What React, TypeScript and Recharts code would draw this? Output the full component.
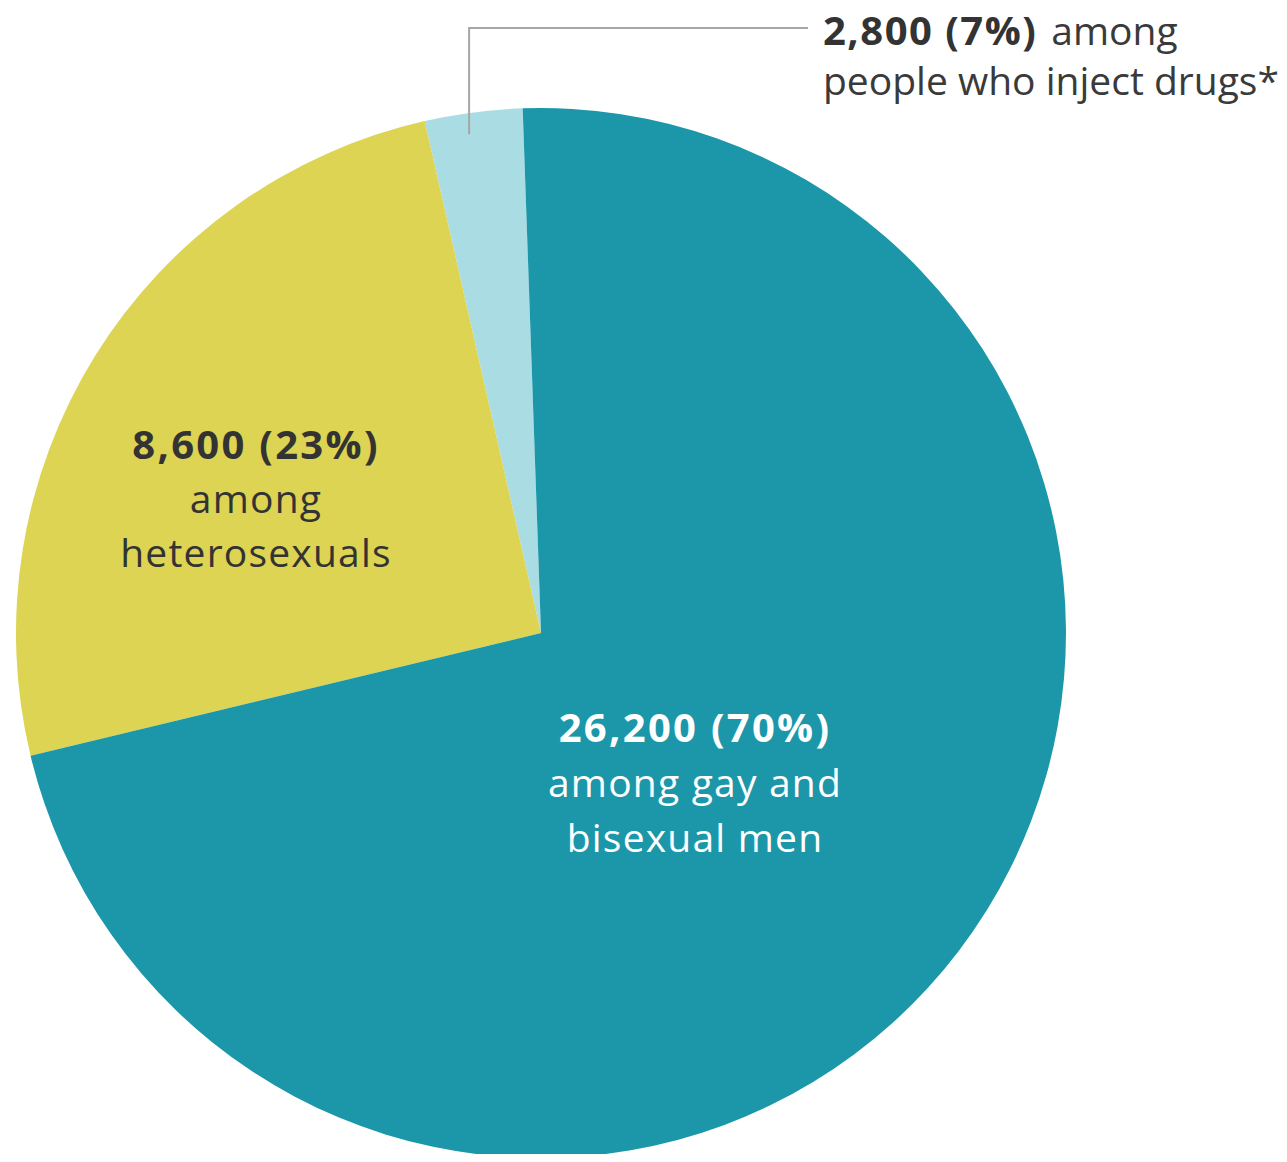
import React from "react";
import { PieChart, Pie, Cell } from "recharts";

// transmission groups, in drawing order (counter-clockwise from the top)
const groups = ["people who inject drugs", "heterosexuals", "gay and bisexual men"];
// slice sizes as drawn in the picture (share of the circle, %)
const shares = [3.0, 25.2, 71.8];
const counts = ["2,800", "8,600", "26,200"];
const percents = ["7%", "23%", "70%"];
const labelLines = [
  ["people who inject drugs*"],
  ["among", "heterosexuals"],
  ["among gay and", "bisexual men"],
];
const colors = ["#a9dce3", "#dcd452", "#1c97a9"];

const data = groups.map((g, i) => ({ name: g, value: shares[i] }));

const FONT = "'Open Sans', 'Noto Sans', sans-serif";
const RAD = Math.PI / 180;

// where each label sits, relative to the pie centre
const labelPos = [
  { dx: 282, dy: -588, anchor: "start", fill: "#3a3a3a", gap: 50 },
  { dx: -285, dy: -174, anchor: "middle", fill: "#333333", gap: 54 },
  { dx: 154, dy: 109, anchor: "middle", fill: "#ffffff", gap: 55 },
];

const renderLabel = (props: any) => {
  const { cx, cy, midAngle, outerRadius, index } = props;
  const p = labelPos[index];
  const head = `${counts[index]} (${percents[index]})`;
  const x = cx + p.dx;
  const y = cy + p.dy;

  if (index === 0) {
    // leader line from the thin slice up and across to the label
    const sx = cx + outerRadius * 0.96 * Math.cos(-(midAngle + 0.8) * RAD);
    const sy = cy + outerRadius * 0.96 * Math.sin(-(midAngle + 0.8) * RAD);
    const topY = cy - outerRadius - 80;
    return (
      <g>
        <polyline
          points={`${sx},${sy} ${sx},${topY} ${cx + 267},${topY}`}
          fill="none"
          stroke="#a6a6a6"
          strokeWidth={2}
        />
        <text x={x} y={y} fill={p.fill} fontFamily={FONT} fontSize={39} textAnchor="start">
          <tspan fontWeight={700} fill="#333" fontSize={40} letterSpacing={1.5}>{head}</tspan>
          <tspan dx={14}>among</tspan>
        </text>
        {labelLines[index].map((line, i) => (
          <text key={i} x={x} y={y + p.gap * (i + 1)} fill={p.fill} fontFamily={FONT} fontSize={39} textAnchor="start">
            {line}
          </text>
        ))}
      </g>
    );
  }

  return (
    <g>
      <text x={x} y={y} fill={p.fill} fontFamily={FONT} fontSize={40} fontWeight={700} letterSpacing={2.3} textAnchor="middle">
        {head}
      </text>
      {labelLines[index].map((line, i) => (
        <text key={i} x={x} y={y + p.gap * (i + 1)} fill={p.fill} fontFamily={FONT} fontSize={39} letterSpacing={1.2} textAnchor="middle">
          {line}
        </text>
      ))}
    </g>
  );
};

const App: React.FC = () => {
  return (
    <div style={{ width: 1287, height: 1162, margin: -8, background: "#fff" }}>
      <PieChart width={1287} height={1162} margin={{ top: 0, right: 0, bottom: 0, left: 0 }}>
        <Pie
          data={data}
          dataKey="value"
          nameKey="name"
          cx={541}
          cy={633}
          outerRadius={525}
          startAngle={92}
          endAngle={452}
          stroke="none"
          label={renderLabel}
          labelLine={false}
          isAnimationActive={false}
        >
          {data.map((d, i) => (
            <Cell key={d.name} fill={colors[i]} />
          ))}
        </Pie>
      </PieChart>
    </div>
  );
};

export default App;
